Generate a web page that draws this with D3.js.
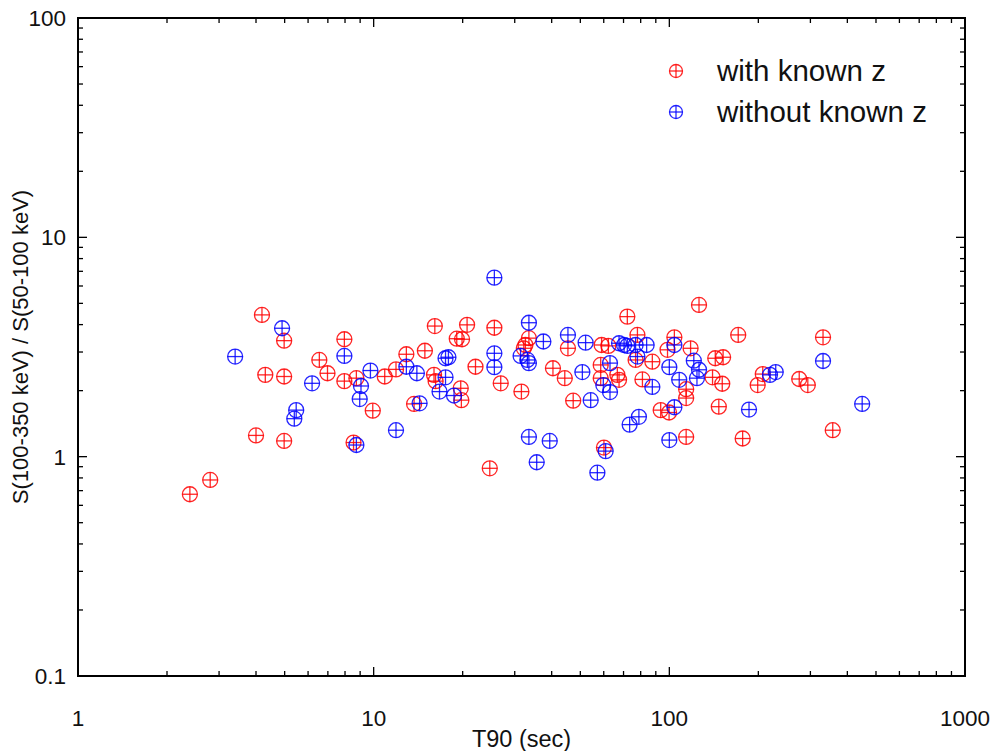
<!DOCTYPE html>
<html>
<head>
<meta charset="utf-8">
<script src="https://cdn.jsdelivr.net/npm/d3@7.9.0/dist/d3.min.js"></script>
<style>
  body { margin: 0; background: #fff; }
  svg text { font-family: "Liberation Sans", Arial, sans-serif; fill: #111; }
</style>
</head>
<body>
<svg id="chart" width="993" height="751"></svg>
<script>
// with known z (red)
const knownT90 = [2.39, 2.80, 4.19, 4.98, 4.30, 4.98, 4.0, 4.98, 6.55, 6.98, 7.96, 7.96, 8.74, 9.93, 8.55,
  10.9, 11.9, 12.9, 14.9, 16.1, 20.7, 19.1, 19.9, 16.0, 16.2, 19.7, 19.8, 13.7, 22.1, 25.6, 26.9, 31.6, 24.7,
  33.5, 32.6, 32.2, 45.4, 40.4, 44.3, 47.3, 59.0, 62.2, 58.6, 58.6, 66.7, 67.6, 60.1, 72.1, 78.0, 76.9, 87.6,
  81.1, 126, 104, 98.6, 118, 114, 114, 93.5, 99.8, 114, 143, 152, 140, 151, 147, 171, 177, 207, 199, 275, 294,
  331, 357];
const knownRatio = [0.674, 0.783, 4.43, 3.38, 2.36, 2.32, 1.25, 1.18, 2.76, 2.40, 3.43, 2.21, 2.28, 1.62, 1.16,
  2.32, 2.50, 2.93, 3.04, 3.94, 3.99, 3.45, 3.43, 2.36, 2.21, 2.05, 1.81, 1.74, 2.57, 3.87, 2.16, 1.98, 0.885,
  3.47, 3.23, 3.12, 3.12, 2.53, 2.28, 1.80, 3.23, 3.20, 2.62, 2.28, 2.36, 2.24, 1.10, 4.35, 3.59, 2.76, 2.71,
  2.25, 4.92, 3.50, 3.07, 3.12, 2.03, 1.85, 1.63, 1.59, 1.23, 2.81, 2.84, 2.30, 2.15, 1.69, 3.59, 1.21, 2.38,
  2.12, 2.26, 2.12, 3.50, 1.32];

// without known z (blue)
const unknownT90 = [3.40, 4.90, 6.19, 5.47, 5.39, 7.96, 9.06, 8.97, 8.74, 9.75, 12.9, 14.0, 11.9, 17.5, 17.9,
  17.5, 16.7, 18.7, 14.3, 25.6, 25.6, 25.6, 33.5, 31.4, 33.1, 33.5, 37.5, 33.5, 39.4, 35.6, 45.4, 50.8, 52.1,
  54.2, 67.6, 70.3, 72.1, 63.0, 59.8, 63.0, 60.9, 57.1, 73.4, 76.9, 83.8, 78.0, 87.6, 78.9, 104, 100, 108, 121,
  126, 124, 104, 100, 186, 219, 229, 331, 449];
const unknownRatio = [2.86, 3.85, 2.16, 1.63, 1.49, 2.88, 2.10, 1.83, 1.13, 2.47, 2.57, 2.40, 1.32, 2.81, 2.84,
  2.30, 1.98, 1.90, 1.75, 6.55, 2.96, 2.56, 4.08, 2.88, 2.76, 2.67, 3.35, 1.23, 1.18, 0.943, 3.59, 2.43, 3.31,
  1.81, 3.29, 3.23, 3.20, 2.67, 2.12, 1.97, 1.06, 0.845, 1.40, 3.23, 3.23, 2.86, 2.08, 1.52, 3.23, 2.56, 2.24,
  2.74, 2.49, 2.28, 1.68, 1.19, 1.64, 2.36, 2.43, 2.73, 1.74];

const xTickLabels = ["1", "10", "100", "1000"];
const yTickLabels = ["0.1", "1", "10", "100"];
const seriesNames = ["with known z", "without known z"];
const seriesColors = ["#ff0000", "#0000ff"];

const margin = { top: 18, right: 28, bottom: 75, left: 78 };
const width = 993, height = 751;

const svg = d3.select('#chart');

const x = d3.scaleLog().domain([1, 1000]).range([margin.left, width - margin.right]);
const y = d3.scaleLog().domain([0.1, 100]).range([height - margin.bottom, margin.top]);

// major + minor tick values (1..9 within each decade)
let xTicks = [];
[1, 10, 100].forEach(d => { for (let k = 1; k <= 10; k++) xTicks.push(d * k); });
xTicks = Array.from(new Set(xTicks));
let yTicks = [];
[0.1, 1, 10].forEach(d => { for (let k = 1; k <= 10; k++) yTicks.push(+(d * k).toPrecision(3)); });
yTicks = Array.from(new Set(yTicks));
const isMajor = v => Math.abs(Math.log10(v) - Math.round(Math.log10(v))) < 1e-6;

const majorLen = 9, minorLen = 5;
const x0 = x.range()[0], x1 = x.range()[1], y0 = y.range()[0], y1 = y.range()[1];

const axes = svg.append('g').attr('stroke', '#000').attr('stroke-width', 1.3);

// bottom & top ticks (inward)
xTicks.forEach(v => {
  const len = isMajor(v) ? majorLen : minorLen;
  axes.append('line').attr('x1', x(v)).attr('x2', x(v)).attr('y1', y0).attr('y2', y0 - len);
  axes.append('line').attr('x1', x(v)).attr('x2', x(v)).attr('y1', y1).attr('y2', y1 + len);
});
// left & right ticks (inward)
yTicks.forEach(v => {
  const len = isMajor(v) ? majorLen : minorLen;
  axes.append('line').attr('y1', y(v)).attr('y2', y(v)).attr('x1', x0).attr('x2', x0 + len);
  axes.append('line').attr('y1', y(v)).attr('y2', y(v)).attr('x1', x1).attr('x2', x1 - len);
});

// frame
svg.append('rect')
  .attr('x', x0).attr('y', y1)
  .attr('width', x1 - x0).attr('height', y0 - y1)
  .attr('fill', 'none').attr('stroke', '#000').attr('stroke-width', 2);

// tick labels
svg.append('g').selectAll('text').data(xTickLabels).join('text')
  .attr('x', d => x(+d)).attr('y', y0 + 50)
  .attr('text-anchor', 'middle').attr('font-size', 22.5)
  .text(d => d);

svg.append('g').selectAll('text').data(yTickLabels).join('text')
  .attr('x', x0 - 12).attr('y', d => y(+d) + 8)
  .attr('text-anchor', 'end').attr('font-size', 22.5)
  .text(d => d);

// axis titles
svg.append('text')
  .attr('x', (x0 + x1) / 2).attr('y', 747)
  .attr('text-anchor', 'middle').attr('font-size', 23.5)
  .text('T90 (sec)');

svg.append('text')
  .attr('transform', `translate(28, ${(y0 + y1) / 2}) rotate(-90)`)
  .attr('text-anchor', 'middle').attr('font-size', 22)
  .text('S(100-350 keV) / S(50-100 keV)');

// marker: circle with a plus inside
function drawMarker(g, cx, cy, r, color) {
  const m = g.append('g').attr('stroke', color).attr('fill', 'none').attr('stroke-width', 1.3).attr('stroke-opacity', 0.85);
  m.append('circle').attr('cx', cx).attr('cy', cy).attr('r', r);
  m.append('line').attr('x1', cx - r).attr('x2', cx + r).attr('y1', cy).attr('y2', cy);
  m.append('line').attr('x1', cx).attr('x2', cx).attr('y1', cy - r).attr('y2', cy + r);
}

const pts = svg.append('g');
knownT90.forEach((t, i) => drawMarker(pts, x(t), y(knownRatio[i]), 7.5, seriesColors[0]));
unknownT90.forEach((t, i) => drawMarker(pts, x(t), y(unknownRatio[i]), 7.5, seriesColors[1]));

// legend
const legend = svg.append('g');
seriesNames.forEach((name, i) => {
  const ly = 71 + i * 41;
  drawMarker(legend, 676, ly, 6.5, seriesColors[i]);
  legend.append('text').attr('x', 717).attr('y', ly + 10)
    .attr('font-size', 29.5).text(name);
});
</script>
</body>
</html>
